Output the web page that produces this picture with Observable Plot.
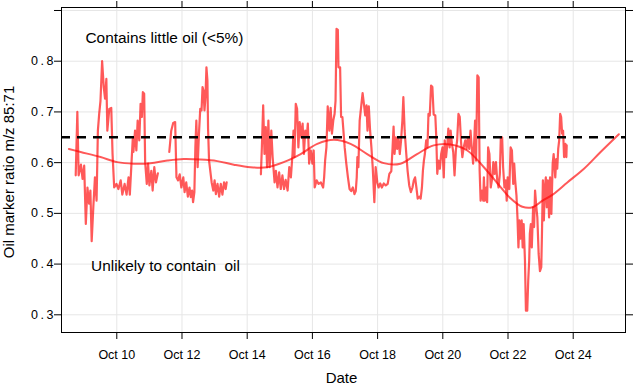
<!DOCTYPE html>
<html><head><meta charset="utf-8">
<script src="https://cdn.jsdelivr.net/npm/d3@7"></script>
<script src="https://cdn.jsdelivr.net/npm/@observablehq/plot@0.6"></script>
<style>
html,body{margin:0;padding:0;background:#fff;}
#chart svg{display:block;}
</style>
</head><body><div id="chart"></div>
<script>
// Day-of-October (fractional) for the measured oil-marker ratio; null ratio = gap in record
const days = [
  8.74, 8.79, 8.83, 8.90, 8.95, 9.00, 9.05, 9.10, 9.15, 9.19,
  9.23, 9.28, 9.33, 9.38, 9.42, 9.46, 9.50, 9.55, 9.60, 9.64,
  9.68, 9.71, 9.77, 9.83, 9.87, 9.92, 9.99, 10.05, 10.12, 10.17,
  10.24, 10.30, 10.36, 10.40, 10.45, 10.49, 10.51, 10.56, 10.60, 10.64,
  10.69, 10.73, 10.77, 10.80, 10.84, 10.87, 10.92, 10.96, 11.00, 11.06,
  11.10, 11.15, 11.20, 11.26,
  11.43,
  11.61, 11.67, 11.73, 11.79, 11.83, 11.88, 11.93, 11.98, 12.04, 12.08,
  12.13, 12.18, 12.23, 12.27, 12.31, 12.34, 12.38, 12.41, 12.44, 12.48,
  12.52, 12.56, 12.60, 12.63, 12.66, 12.69, 12.72, 12.75, 12.78, 12.80,
  12.83, 12.91, 12.96, 13.00, 13.04, 13.09, 13.14, 13.19, 13.24, 13.29,
  13.34, 13.37,
  13.90,
  14.42, 14.45, 14.49, 14.53, 14.57, 14.61, 14.65, 14.69, 14.74, 14.78,
  14.84, 14.88, 14.93, 14.98, 15.03, 15.08, 15.13, 15.18, 15.24, 15.29,
  15.34, 15.39, 15.42, 15.45, 15.49, 15.53, 15.57, 15.61, 15.66, 15.70,
  15.74, 15.78, 15.83, 15.86, 15.90, 15.95, 16.00, 16.04, 16.07, 16.13,
  16.19, 16.26, 16.33, 16.36, 16.39, 16.43, 16.47, 16.52, 16.56, 16.60,
  16.64, 16.68, 16.71, 16.74, 16.78, 16.80, 16.85, 16.88, 16.92, 16.99,
  17.04, 17.09, 17.14, 17.19, 17.24, 17.29, 17.33, 17.36, 17.38, 17.41,
  17.45, 17.50, 17.54, 17.58, 17.62, 17.66, 17.69, 17.73, 17.77, 17.81,
  17.85, 17.90, 17.94, 17.99, 18.03, 18.08, 18.13, 18.19, 18.25, 18.31,
  18.36, 18.42, 18.46, 18.49, 18.52, 18.56, 18.60, 18.64, 18.68, 18.72,
  18.76, 18.79, 18.83, 18.88, 18.92, 18.97, 19.02, 19.07, 19.11, 19.15,
  19.19, 19.23, 19.28, 19.32, 19.36, 19.39, 19.42, 19.45, 19.49, 19.53,
  19.56, 19.60, 19.64, 19.68, 19.72, 19.77, 19.80, 19.83, 19.87, 19.91,
  19.95, 19.99, 20.03, 20.06, 20.10, 20.14, 20.17, 20.21, 20.24, 20.28,
  20.32, 20.36, 20.40, 20.44, 20.48, 20.52, 20.56, 20.60, 20.64, 20.69,
  20.73, 20.77, 20.81, 20.85, 20.89, 20.93, 20.96, 20.99, 21.02, 21.06,
  21.10, 21.13, 21.16, 21.20, 21.24, 21.26, 21.29, 21.33, 21.36, 21.39,
  21.43, 21.47, 21.52, 21.55, 21.59, 21.63, 21.67, 21.71, 21.75, 21.78,
  21.82, 21.85, 21.89, 21.93, 21.96, 21.99, 22.04, 22.08, 22.12, 22.16,
  22.19, 22.22, 22.26, 22.29, 22.32, 22.35, 22.38, 22.42, 22.45, 22.48,
  22.52, 22.55, 22.59, 22.62, 22.65, 22.67, 22.70, 22.73, 22.77, 22.80,
  22.83, 22.87, 22.90, 22.94, 22.98, 23.02, 23.04, 23.07, 23.10, 23.13,
  23.16, 23.19, 23.22, 23.26, 23.29, 23.33, 23.37, 23.40, 23.45, 23.48,
  23.51, 23.54, 23.57, 23.60, 23.63, 23.66, 23.69, 23.72, 23.76, 23.79,
  23.80
];
const ratio = [
  0.575, 0.700, 0.575, 0.596, 0.568, 0.594, 0.479, 0.551, 0.519, 0.545,
  0.445, 0.512, 0.571, 0.525, 0.663, 0.696, 0.722, 0.800, 0.749, 0.726,
  0.765, 0.663, 0.706, 0.708, 0.617, 0.551, 0.558, 0.548, 0.565, 0.537,
  0.558, 0.537, 0.571, 0.537, 0.598, 0.647, 0.621, 0.663, 0.624, 0.683,
  0.644, 0.716, 0.690, 0.739, 0.736, 0.601, 0.558, 0.598, 0.555, 0.584,
  0.545, 0.591, 0.561, 0.579,
  null,
  0.621, 0.663, 0.678, 0.680, 0.571, 0.565, 0.577, 0.551, 0.571, 0.542,
  0.561, 0.533, 0.551, 0.532, 0.545, 0.522, 0.542, 0.630, 0.683, 0.591,
  0.657, 0.706, 0.703, 0.749, 0.742, 0.703, 0.729, 0.788, 0.762, 0.667,
  0.604, 0.561, 0.545, 0.565, 0.538, 0.558, 0.533, 0.558, 0.537, 0.561,
  0.548, 0.561,
  null,
  0.577, 0.630, 0.713, 0.617, 0.670, 0.591, 0.683, 0.591, 0.663, 0.611,
  0.561, 0.584, 0.551, 0.581, 0.548, 0.575, 0.548, 0.566, 0.545, 0.591,
  0.571, 0.617, 0.663, 0.611, 0.716, 0.706, 0.630, 0.680, 0.650, 0.677,
  0.617, 0.663, 0.653, 0.677, 0.598, 0.624, 0.598, 0.624, 0.551, 0.565,
  0.558, 0.561, 0.551, 0.571, 0.604, 0.630, 0.711, 0.663, 0.708, 0.657,
  0.683, 0.696, 0.722, 0.864, 0.862, 0.788, 0.788, 0.690, 0.690, 0.630,
  0.598, 0.571, 0.548, 0.544, 0.551, 0.538, 0.544, 0.571, 0.611, 0.591,
  0.683, 0.713, 0.737, 0.716, 0.693, 0.713, 0.663, 0.711, 0.663, 0.630,
  0.591, 0.522, 0.591, 0.561, 0.551, 0.559, 0.551, 0.559, 0.555, 0.558,
  0.578, 0.583, 0.630, 0.671, 0.617, 0.650, 0.627, 0.650, 0.617, 0.644,
  0.683, 0.729, 0.663, 0.617, 0.584, 0.555, 0.542, 0.551, 0.565, 0.571,
  0.551, 0.529, 0.533, 0.529, 0.551, 0.584, 0.604, 0.617, 0.644, 0.630,
  0.696, 0.693, 0.752, 0.749, 0.695, 0.693, 0.650, 0.578, 0.604, 0.588,
  0.617, 0.630, 0.571, 0.644, 0.611, 0.637, 0.667, 0.630, 0.663, 0.637,
  0.621, 0.575, 0.624, 0.644, 0.696, 0.690, 0.640, 0.611, 0.630, 0.644,
  0.627, 0.650, 0.627, 0.663, 0.627, 0.598, 0.637, 0.683, 0.604, 0.772,
  0.768, 0.584, 0.525, 0.545, 0.525, 0.571, 0.525, 0.551, 0.522, 0.630,
  0.617, 0.551, 0.571, 0.601, 0.578, 0.601, 0.565, 0.551, 0.578, 0.650,
  0.650, 0.591, 0.551, 0.565, 0.525, 0.571, 0.548, 0.630, 0.624, 0.558,
  0.598, 0.565, 0.535, 0.492, 0.433, 0.486, 0.450, 0.486, 0.433, 0.479,
  0.407, 0.308, 0.308, 0.367, 0.407, 0.460, 0.479, 0.433, 0.512, 0.473,
  0.545, 0.512, 0.492, 0.420, 0.386, 0.394, 0.454, 0.565, 0.486, 0.551,
  0.571, 0.512, 0.565, 0.492, 0.571, 0.499, 0.598, 0.617, 0.571, 0.607,
  0.588, 0.627, 0.644, 0.696, 0.690, 0.657, 0.663, 0.611, 0.637, 0.611,
  0.634
];
// Smoothed trend
const smoothDays = [8.53, 8.89, 9.50, 10.01, 10.52, 11.03, 11.55, 12.06, 12.57, 13.08,
  13.59, 14.10, 14.61, 15.12, 15.64, 16.15, 16.66, 17.17, 17.68, 18.19,
  18.70, 19.21, 19.72, 20.24, 20.75, 21.26, 21.73, 22.04, 22.44, 22.75,
  23.06, 23.37, 23.82, 24.33, 24.84, 25.40];
const smoothVals = [0.627, 0.621, 0.611, 0.601, 0.598, 0.599, 0.604, 0.607, 0.606, 0.603,
  0.596, 0.591, 0.591, 0.601, 0.617, 0.637, 0.645, 0.637, 0.617, 0.599,
  0.598, 0.617, 0.634, 0.636, 0.624, 0.591, 0.555, 0.532, 0.513, 0.512,
  0.525, 0.537, 0.561, 0.588, 0.621, 0.656];
const threshold = 0.65;
const xTickDays = [10, 12, 14, 16, 18, 20, 22, 24];
const yTicks = [0.3, 0.4, 0.5, 0.6, 0.7, 0.8, 0.9];
const yTickLabels = ["0.3", "0.4", "0.5", "0.6", "0.7", "0.8", ""];
const annoText = ["Contains little oil (<5%)", "Unlikely to contain\u00a0 oil"];
const annoDays = [9.04, 9.21];
const annoVals = [0.845, 0.397];
const yTitle = "Oil marker ratio m/z 85:71";
const xTitle = "Date";
const xDomainDays = [8.304, 25.604];
const yDomain = [0.2651, 0.9059];

const toDate = d => new Date(Date.UTC(2019, 8, 30) + d * 864e5);
const series = days.map((d, i) => ({date: toDate(d), ratio: ratio[i]}));
const smooth = smoothDays.map((d, i) => ({date: toDate(d), value: smoothVals[i]}));
const xTicks = xTickDays.map(toDate);
const annos = annoText.map((t, i) => ({text: t, date: toDate(annoDays[i]), value: annoVals[i]}));
const fmt = d3.utcFormat("%b %d");

const plot = Plot.plot({
  width: 633, height: 387,
  marginLeft: 61, marginRight: 8, marginTop: 7, marginBottom: 55,
  style: {fontFamily: "'Liberation Sans', Arial, sans-serif", fontSize: "12.5px", color: "black", background: "white"},
  x: {type: "utc", domain: xDomainDays.map(toDate)},
  y: {domain: yDomain},
  marks: [
    Plot.gridX(xTicks, {stroke: "#e6e6e6", strokeOpacity: 1, strokeWidth: 1}),
    Plot.gridY(yTicks, {stroke: "#e6e6e6", strokeOpacity: 1, strokeWidth: 1}),
    Plot.line(series, {x: "date", y: "ratio", stroke: "red", strokeOpacity: 0.65, strokeWidth: 2.2}),
    Plot.line(smooth, {x: "date", y: "value", curve: "catmull-rom", stroke: "red", strokeOpacity: 0.65, strokeWidth: 2}),
    Plot.ruleY([threshold], {stroke: "black", strokeWidth: 2.5, strokeDasharray: "9,7"}),
    Plot.frame({stroke: "black", strokeWidth: 1}),
    Plot.axisX(xTicks, {anchor: "bottom", tickSize: 7, tickPadding: 11, tickFormat: fmt, label: null}),
    Plot.axisX(xTicks, {anchor: "top", tickSize: 7, tickFormat: () => "", label: null}),
    Plot.axisY(yTicks, {anchor: "left", tickSize: 7, tickPadding: -1.5, tickFormat: d => yTickLabels[yTicks.indexOf(d)], label: null}),
    Plot.axisY(yTicks, {anchor: "right", tickSize: 7, tickFormat: () => "", label: null}),
    Plot.text(annos, {x: "date", y: "value", text: "text", textAnchor: "start", lineAnchor: "middle", fontSize: 15.4, fill: "black"}),
    Plot.text([yTitle], {frameAnchor: "left", rotate: -90, dx: -52.3, dy: 2, fontSize: 15, textAnchor: "middle", lineAnchor: "middle", fill: "black"}),
    Plot.text([xTitle], {frameAnchor: "bottom", dx: -2, dy: 40, fontSize: 15, lineAnchor: "top", fill: "black"})
  ]
});
d3.select(plot).selectAll('g[aria-label="y-axis tick label"] text').attr("letter-spacing", "2.5px");
document.getElementById("chart").appendChild(plot);
</script>
</body></html>
